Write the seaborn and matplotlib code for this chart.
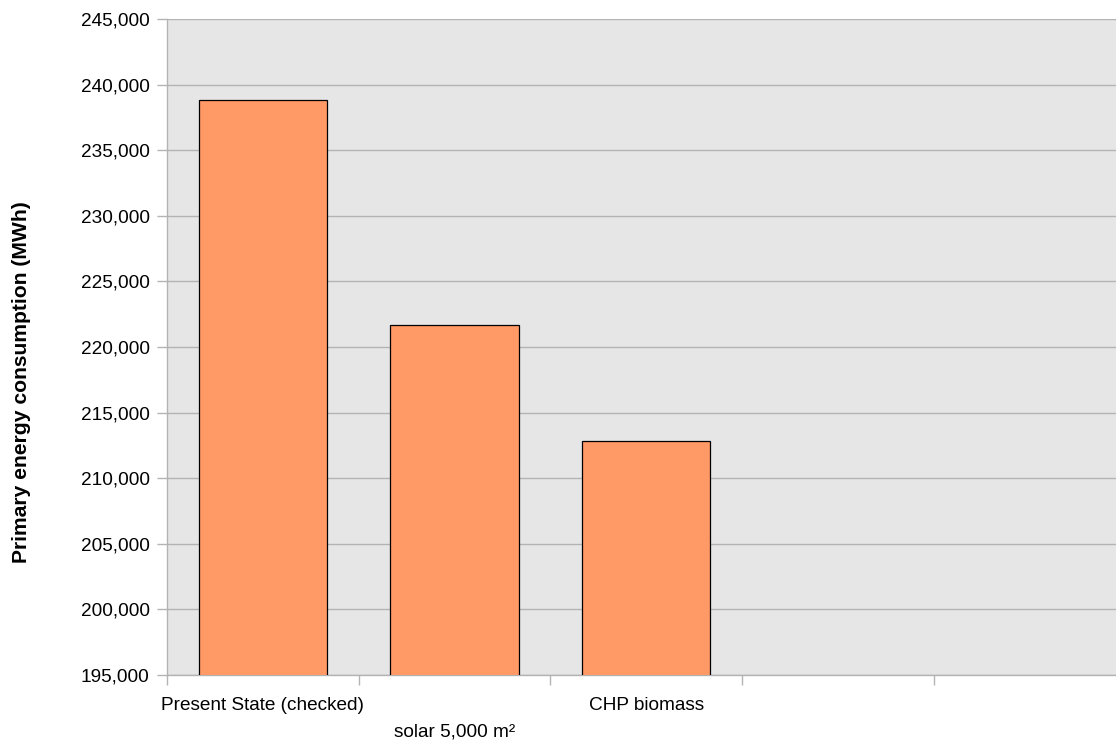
import matplotlib
matplotlib.use("Agg")
import matplotlib.pyplot as plt
import matplotlib.transforms as mtransforms
import pandas as pd
import seaborn as sns

# Scenario data (primary energy consumption in MWh)
scenarios = ["Present State (checked)", "solar 5,000 m²", "CHP biomass"]
consumption = [238800, 221700, 212800]
# two further, unused category slots on the axis
slots = scenarios + ["slot 4", "slot 5"]

y_ticks = list(range(195000, 245001, 5000))

sns.set_style("white")
plt.rcParams["font.family"] = ["Liberation Sans", "DejaVu Sans"]

W, H = 1116, 740
fig = plt.figure(figsize=(W / 100, H / 100), dpi=100)
ax = fig.add_axes([167 / W, 65 / H, 958.5 / W, 656 / H])
ax.set_facecolor("#e6e6e6")

df = pd.DataFrame({"scenario": scenarios, "mwh": consumption})
sns.barplot(data=df, x="scenario", y="mwh", order=slots, color="#ff9966",
            saturation=1, width=0.67, edgecolor="black", linewidth=0.9,
            ax=ax, zorder=3)
for p in ax.patches:
    p.set_facecolor("#ff9966")

ax.set_ylim(195000, 245000)
ax.set_xlim(-0.5, len(slots) - 0.5)
ax.set_yticks(y_ticks)
ax.set_yticklabels([f"{v:,}" for v in y_ticks], fontsize=13.7, color="black")
ax.yaxis.grid(True, color="#b3b3b3", linewidth=1.0, zorder=1)
ax.set_axisbelow(True)

# category labels centred in their slots, separators as tick marks
ax.set_xticks(range(len(slots)))
ax.set_xticklabels(scenarios + ["", ""], fontsize=13.7, color="black")
ax.tick_params(axis="x", which="major", length=0, pad=16, bottom=True)
ax.set_xticks([i - 0.5 for i in range(len(slots) + 1)], minor=True)
ax.tick_params(axis="x", which="minor", length=7.5, width=1.0, color="#b3b3b3",
               direction="out", bottom=True)
ax.tick_params(axis="y", length=7.5, width=1.0, color="#b3b3b3", pad=5,
               direction="out", left=True)
for i, lab in enumerate(ax.get_xticklabels()):
    if i % 2 == 1:
        lab.set_transform(lab.get_transform() +
                          mtransforms.ScaledTranslation(0, -26 / 100, fig.dpi_scale_trans))

ax.set_xlabel("")
ax.set_ylabel("")
for side in ["top", "right"]:
    ax.spines[side].set_visible(False)
for side in ["left", "bottom"]:
    ax.spines[side].set_color("#b3b3b3")
    ax.spines[side].set_linewidth(1.0)

fig.text(22 / W, 1 - 382 / H, "Primary energy consumption (MWh)", rotation=90,
         ha="center", va="center", fontsize=15.2, fontweight="bold", color="black")

fig.savefig("out.png", dpi=100, facecolor="white")
